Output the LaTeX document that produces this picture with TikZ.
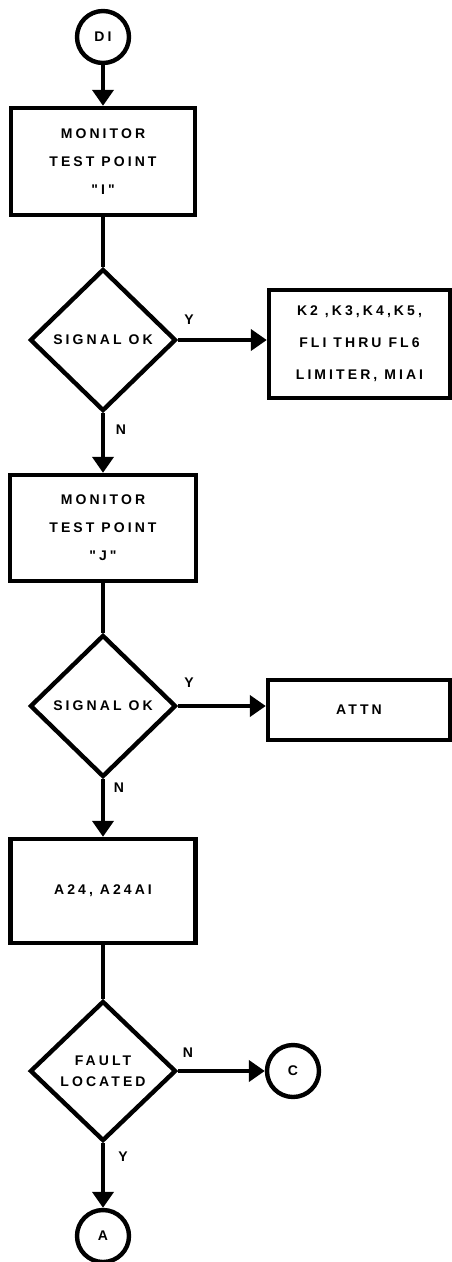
\documentclass[tikz,border=0pt]{standalone}
\usepackage{fontspec}
\newfontfamily\lbl{Liberation Sans}[LetterSpace=22]
\usetikzlibrary{shapes.geometric,arrows.meta}
\tikzset{
  lw/.style={line width=4.4pt},
  box/.style={draw,lw,rectangle,inner sep=0pt,align=center,font=\lbl\bfseries\fontsize{14}{28}\selectfont},
  dec/.style={draw,lw,diamond,inner sep=0pt,align=center,font=\lbl\bfseries\fontsize{14}{21}\selectfont},
  conn/.style={draw,lw,circle,inner sep=0pt,minimum size=52pt,font=\lbl\bfseries\fontsize{14}{15}\selectfont},
  flow/.style={lw,-{Triangle[length=16pt,width=21pt]}},
  line/.style={lw},
  yn/.style={font=\lbl\bfseries\fontsize{14}{15}\selectfont}
}
\begin{document}
\begin{tikzpicture}[x=1pt,y=-1pt]
\useasboundingbox (0,0) rectangle (452,1262);
\node[conn] (d1) at (103,37) {DI};
\node[box,minimum width=184pt,minimum height=107pt] (b1) at (103,161.5) {MONITOR\\TEST POINT\\"I"};
\node[dec,minimum width=146pt,minimum height=142pt] (q1) at (103,340) {SIGNAL OK};
\node[box,minimum width=181pt,minimum height=108pt,font=\lbl\bfseries\fontsize{14}{32}\selectfont] (k) at (359.5,344) {K2 ,K3,K4,K5,\\FLI THRU FL6\\LIMITER, MIAI};
\node[box,minimum width=186pt,minimum height=106pt] (b2) at (103,528) {MONITOR\\TEST POINT\\"J"};
\node[dec,minimum width=146pt,minimum height=142pt] (q2) at (103,706) {SIGNAL OK};
\node[box,minimum width=182pt,minimum height=60pt] (attn) at (359,710) {ATTN};
\node[box,minimum width=185pt,minimum height=104pt] (b3) at (103,891) {A24, A24AI};
\node[dec,minimum width=146pt,minimum height=140pt] (q3) at (103,1071) {FAULT\\LOCATED};
\node[conn] (c) at (293,1071) {C};
\node[conn] (a) at (103,1236) {A};
\draw[flow] (d1) -- (b1);
\draw[line] (b1) -- (q1);
\draw[flow] (q1.east) -- (k.west |- q1.east);
\draw[flow] (q1) -- (b2);
\draw[line] (b2) -- (q2);
\draw[flow] (q2.east) -- (attn.west |- q2.east);
\draw[flow] (q2) -- (b3);
\draw[line] (b3) -- (q3);
\draw[flow] (q3) -- (c);
\draw[flow] (q3) -- (a);
\node[yn] (y1) at (189,320) {Y};
\node[yn] (n1) at (121,430) {N};
\node[yn] (y2) at (189,683) {Y};
\node[yn] (n2) at (119,788) {N};
\node[yn] (n3) at (188,1053) {N};
\node[yn] (y3) at (123,1157) {Y};
\end{tikzpicture}
\end{document}
